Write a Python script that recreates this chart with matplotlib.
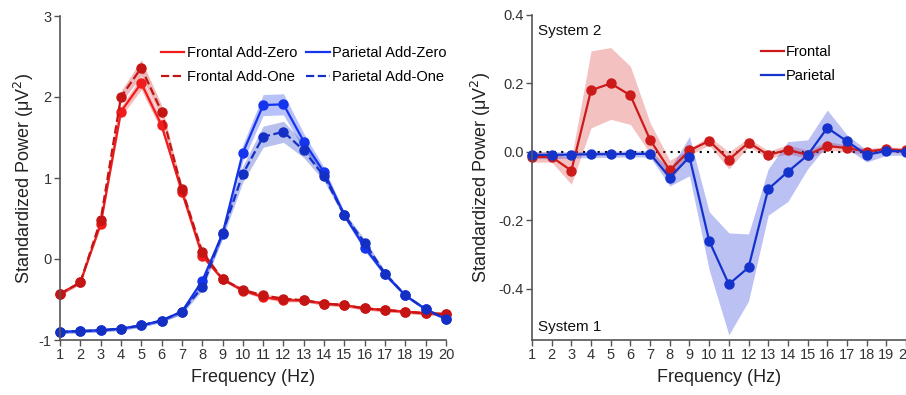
import numpy as np
import matplotlib.pyplot as plt

plt.rcParams['font.family'] = ['Liberation Sans', 'DejaVu Sans']
plt.rcParams['axes.unicode_minus'] = False

freq = np.arange(1, 21)

# left panel: standardized power per channel / zero-handling method
frontal_zero = [-0.43, -0.29, 0.43, 1.82, 2.17, 1.65, 0.83, 0.04, -0.25, -0.39,
                -0.47, -0.51, -0.51, -0.55, -0.57, -0.61, -0.63, -0.65, -0.67, -0.68]
frontal_one = [-0.43, -0.29, 0.48, 2.00, 2.36, 1.82, 0.86, 0.09, -0.25, -0.38,
               -0.45, -0.49, -0.51, -0.55, -0.57, -0.61, -0.63, -0.65, -0.67, -0.68]
parietal_zero = [-0.90, -0.89, -0.88, -0.86, -0.82, -0.76, -0.65, -0.27, 0.31, 1.31,
                 1.90, 1.91, 1.45, 1.07, 0.54, 0.14, -0.19, -0.45, -0.62, -0.74]
parietal_one = [-0.90, -0.89, -0.88, -0.86, -0.82, -0.76, -0.65, -0.35, 0.32, 1.05,
                1.51, 1.57, 1.34, 1.02, 0.54, 0.20, -0.18, -0.45, -0.62, -0.74]
frontal_zero_se = [0.02, 0.02, 0.03, 0.06, 0.08, 0.07, 0.04, 0.03, 0.02, 0.02,
                   0.02, 0.02, 0.02, 0.02, 0.02, 0.02, 0.02, 0.02, 0.02, 0.02]
frontal_one_se = [0.02, 0.02, 0.03, 0.07, 0.10, 0.08, 0.04, 0.03, 0.02, 0.02,
                  0.02, 0.02, 0.02, 0.02, 0.02, 0.02, 0.02, 0.02, 0.02, 0.02]
parietal_zero_se = [0.02, 0.02, 0.02, 0.02, 0.02, 0.02, 0.03, 0.04, 0.06, 0.10,
                    0.13, 0.13, 0.10, 0.06, 0.04, 0.04, 0.03, 0.02, 0.02, 0.02]
parietal_one_se = [0.02, 0.02, 0.02, 0.02, 0.02, 0.02, 0.03, 0.04, 0.06, 0.10,
                   0.13, 0.13, 0.09, 0.06, 0.04, 0.04, 0.03, 0.02, 0.02, 0.02]

# right panel: difference (System 2 - System 1)
frontal_diff = [-0.015, -0.015, -0.055, 0.18, 0.20, 0.165, 0.035, -0.054, 0.004, 0.032,
                -0.023, 0.027, -0.009, 0.006, -0.009, 0.017, 0.011, 0.001, 0.008, 0.004]
frontal_lo = [-0.03, -0.03, -0.095, 0.07, 0.095, 0.08, -0.005, -0.085, -0.01, 0.02,
              -0.05, 0.015, -0.02, -0.005, -0.02, 0.005, 0.0, -0.008, 0.0, -0.005]
frontal_hi = [0.0, 0.0, -0.02, 0.295, 0.305, 0.25, 0.085, -0.025, 0.01, 0.045,
              0.0, 0.04, 0.003, 0.02, 0.005, 0.03, 0.02, 0.01, 0.015, 0.012]
parietal_diff = [-0.009, -0.009, -0.008, -0.007, -0.007, -0.006, -0.006, -0.075, -0.015, -0.26,
                 -0.387, -0.338, -0.109, -0.058, -0.01, 0.07, 0.031, -0.009, 0.003, 0.001]
parietal_lo = [-0.02, -0.02, -0.018, -0.017, -0.016, -0.015, -0.015, -0.10, -0.07, -0.345,
               -0.535, -0.436, -0.185, -0.145, -0.05, 0.02, 0.01, -0.03, -0.01, -0.01]
parietal_hi = [0.0, 0.0, 0.0, 0.002, 0.002, 0.003, 0.003, -0.05, 0.045, -0.175,
               -0.237, -0.24, -0.05, 0.03, 0.035, 0.122, 0.05, 0.005, 0.01, 0.01]

red = '#ee1c1c'
dred = '#c41414'
blue = '#1434ee'
dblue = '#1430c4'
grey = '#555555'

fig = plt.figure(figsize=(9.06, 3.95), dpi=100)
ax1 = fig.add_axes([60 / 906, 55 / 395, 386 / 906, 324 / 395])
ax2 = fig.add_axes([532 / 906, 55 / 395, 374 / 906, 325 / 395])


def band(ax, y, lo, hi, c, ls, label=None, fc=None):
    ax.fill_between(freq, lo, hi, color=fc or c, alpha=0.3, lw=0)
    ax.plot(freq, y, ls, color=c, lw=1.6, marker='o', ms=6.5, label=label, clip_on=False)


for y, se, c, ls, lab in [(frontal_zero, frontal_zero_se, red, '-', 'Frontal Add-Zero'),
                          (parietal_zero, parietal_zero_se, blue, '-', 'Parietal Add-Zero'),
                          (frontal_one, frontal_one_se, dred, '--', 'Frontal Add-One'),
                          (parietal_one, parietal_one_se, dblue, '--', 'Parietal Add-One')]:
    y = np.array(y)
    se = np.array(se)
    band(ax1, y, y - se, y + se, c, ls, lab)

ax2.axhline(0, color='black', ls=(0, (1, 2.5)), lw=1.5, zorder=1)
band(ax2, frontal_diff, frontal_lo, frontal_hi, '#cc1a1a', '-', 'Frontal', fc='#dd3333')
band(ax2, parietal_diff, parietal_lo, parietal_hi, '#1432cc', '-', 'Parietal', fc='#2233dd')

ax1.set_xlim(1, 20)
ax1.set_ylim(-1, 3)
ax1.set_yticks([-1, 0, 1, 2, 3])
ax2.set_xlim(1, 20)
ax2.set_ylim(-0.55, 0.4)
ax2.set_yticks([-0.4, -0.2, 0.0, 0.2, 0.4])
ax2.set_yticklabels(['-0.4', '-0.2', '0.0', '0.2', '0.4'])

for ax, lp in ((ax1, 2), (ax2, 4)):
    ax.set_xticks(freq)
    for s in ('top', 'right'):
        ax.spines[s].set_visible(False)
    for s in ('left', 'bottom'):
        ax.spines[s].set_color(grey)
        ax.spines[s].set_linewidth(1.2)
    ax.tick_params(direction='out', length=4, width=1, color=grey,
                   labelcolor='#333333', labelsize=10.5, pad=2)
    ax.set_xlabel('Frequency (Hz)', fontsize=13, color='#222222', labelpad=5)
    ax.set_ylabel('Standardized Power (\u03bcV$^2$)', fontsize=13, color='#222222', labelpad=lp)

h, l = ax1.get_legend_handles_labels()
ax1.legend([h[0], h[2], h[1], h[3]], [l[0], l[2], l[1], l[3]], ncol=2, frameon=False,
           loc='upper left', bbox_to_anchor=(0.243, 0.93), fontsize=10.5,
           handlelength=1.6, handletextpad=0.15, columnspacing=0.65, labelspacing=0.7,
           borderpad=0)
for lh in ax1.get_legend().legend_handles:
    lh.set_marker('')

ax2.legend(frameon=False, loc='upper left', bbox_to_anchor=(0.593, 0.93), fontsize=10.5,
           handlelength=1.6, handletextpad=0.1, labelspacing=0.7, borderpad=0)
for lh in ax2.get_legend().legend_handles:
    lh.set_marker('')

ax2.text(0.015, 0.95, 'System 2', transform=ax2.transAxes, fontsize=11, va='center', color='#111111')
ax2.text(0.015, 0.04, 'System 1', transform=ax2.transAxes, fontsize=11, va='center', color='#111111')

fig.savefig('out.png', dpi=100)
